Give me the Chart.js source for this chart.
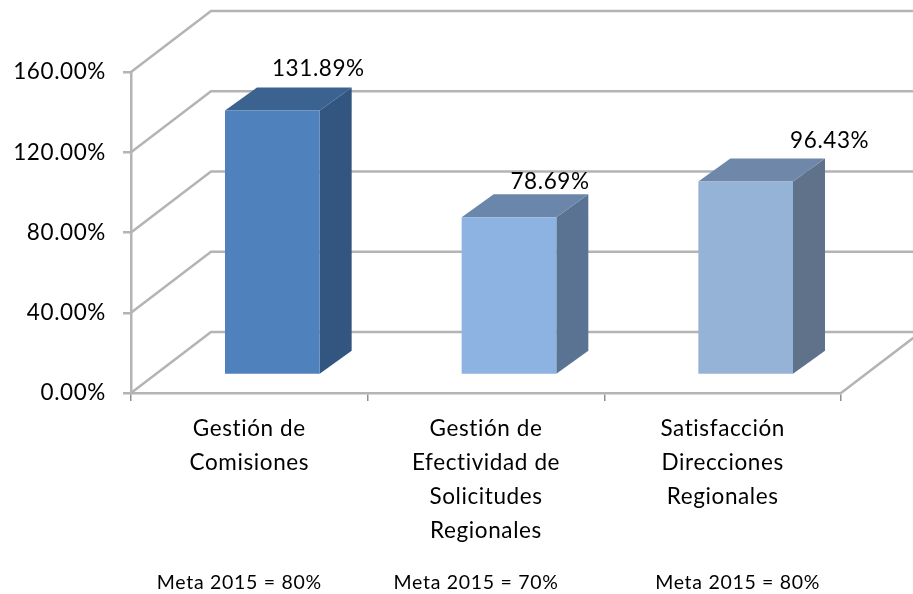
<!DOCTYPE html>
<html>
<head>
<meta charset="utf-8">
<style>html,body{margin:0;padding:0;background:#fff}#w{width:913px;height:594px;position:relative;overflow:hidden}#c{filter:blur(0.45px)}</style>
<script src="https://cdn.jsdelivr.net/npm/chart.js@4"></script>
</head>
<body>
<div id="w"><canvas id="c" width="913" height="594"></canvas></div>
<script>
const categories = [["Gestión de","Comisiones"],["Gestión de","Efectividad de","Solicitudes","Regionales"],["Satisfacción","Direcciones","Regionales"]];
const values = [131.89, 78.69, 96.43];
const valueLabels = ["131.89%","78.69%","96.43%"];
const metaLabels = ["Meta 2015 = 80%","Meta 2015 = 70%","Meta 2015 = 80%"];
const yTicks = [0,40,80,120,160];

const frontColors = ["#4f81bd","#8db3e2","#95b3d7"];
const topColors = ["#3c6390","#6a87ab","#6f88a9"];
const sideColors = ["#325680","#5a7392","#5f7289"];
const labelShift = [[46,-19],[41,-12],[84,-18]];
const metaShift = [-10,-10,15];

const FONT = "Lato, Carlito, sans-serif";
const GRID = "#b4b4b4";
const wall = {x:80,y:-61};
const barShift = {x:23,y:-18};
const barDepth = {x:32,y:-23};

function poly(ctx, pts, fill){
  ctx.beginPath();
  pts.forEach((p,i)=> i?ctx.lineTo(p[0],p[1]):ctx.moveTo(p[0],p[1]));
  ctx.closePath();
  ctx.fillStyle = fill;
  ctx.fill();
}

const threeD = {
  id:"threeD",
  beforeDraw(chart){ chart.ctx.letterSpacing = "0.6px"; },
  beforeDatasetsDraw(chart){
    const {ctx, scales:{x,y}, chartArea:a} = chart;
    ctx.save();
    ctx.strokeStyle = GRID; ctx.lineWidth = 2.5; ctx.lineCap="round";
    yTicks.forEach(v=>{
      const py = y.getPixelForValue(v);
      ctx.beginPath();
      ctx.moveTo(a.left,py);
      ctx.lineTo(a.left+wall.x,py+wall.y);
      ctx.lineTo(a.right+wall.x,py+wall.y);
      ctx.stroke();
    });
    const py0 = y.getPixelForValue(0);
    ctx.beginPath();
    ctx.moveTo(a.right,py0);
    ctx.lineTo(a.right+wall.x,py0+wall.y);
    ctx.stroke();
    ctx.restore();
  },
  beforeDatasetDraw(chart){
    const {ctx} = chart;
    const meta = chart.getDatasetMeta(0);
    ctx.save();
    meta.data.forEach((b,i)=>{
      const l=b.x-b.width/2+barShift.x, r=b.x+b.width/2+barShift.x;
      const t=b.y+barShift.y, bt=b.base+barShift.y;
      poly(ctx,[[r,t],[r+barDepth.x,t+barDepth.y],[r+barDepth.x,bt+barDepth.y],[r,bt]],sideColors[i]);
      poly(ctx,[[l,t],[l+barDepth.x,t+barDepth.y],[r+barDepth.x,t+barDepth.y],[r,t]],topColors[i]);
    });
    ctx.restore();
    ctx.save();
    ctx.translate(barShift.x,barShift.y);
  },
  afterDatasetDraw(chart){ chart.ctx.restore(); },
  afterDraw(chart){
    const {ctx, scales:{x}} = chart;
    const meta = chart.getDatasetMeta(0);
    ctx.save();
    ctx.fillStyle="#000";
    ctx.textAlign="center"; ctx.textBaseline="middle";
    ctx.font="22.5px "+FONT;
    meta.data.forEach((b,i)=>{
      ctx.fillText(valueLabels[i], b.x+barShift.x+labelShift[i][0], b.y+barShift.y+barDepth.y+labelShift[i][1]);
    });
    ctx.font="19.5px "+FONT;
    ctx.letterSpacing="0.7px";
    metaLabels.forEach((m,i)=>{
      ctx.fillText(m, x.getPixelForValue(i)+metaShift[i], 583);
    });
    ctx.restore();
  }
};

new Chart(document.getElementById("c"),{
  type:"bar",
  data:{labels:categories,datasets:[{data:values,backgroundColor:frontColors,borderWidth:0,barPercentage:0.5,categoryPercentage:0.8,clip:false}]},
  plugins:[threeD],
  options:{
    responsive:false,animation:false,
    layout:{padding:{top:72,right:72,left:0,bottom:0}},
    plugins:{legend:{display:false},tooltip:{enabled:false}},
    scales:{
      y:{min:0,max:160,
        afterFit(s){s.width=131;},
        afterBuildTicks(s){s.ticks=yTicks.map(v=>({value:v}));},
        border:{color:GRID,width:2.5},
        grid:{drawOnChartArea:false,drawTicks:true,tickLength:8,color:GRID,lineWidth:2.5},
        ticks:{padding:17,color:"#000",font:{family:FONT,size:22.5},callback:v=>v.toFixed(2)+"%"}},
      x:{
        afterFit(s){s.height=201;},
        border:{color:GRID,width:2.5},
        grid:{drawOnChartArea:false,drawTicks:true,tickLength:8,color:"#8f8f8f",lineWidth:1.5,offset:true},
        ticks:{autoSkip:false,maxRotation:0,padding:11,color:"#000",font:{family:FONT,size:22.5,lineHeight:1.51}}}
    }
  }
});
</script>
</body>
</html>
